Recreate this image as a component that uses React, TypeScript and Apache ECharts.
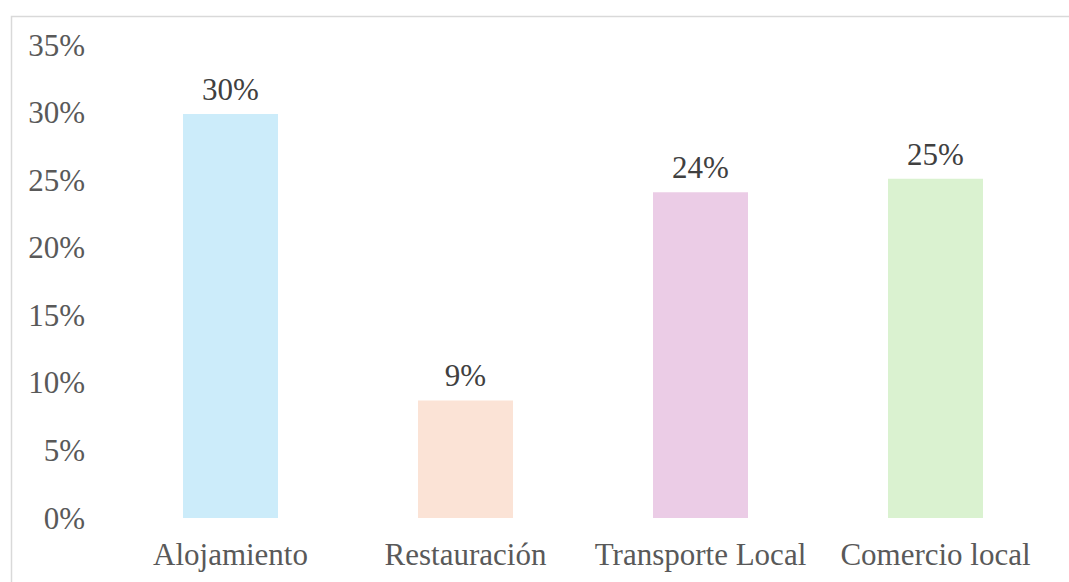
import React, { useEffect, useRef } from "react";
import * as echarts from "echarts";

const categories = ["Alojamiento", "Restauración", "Transporte Local", "Comercio local"];
const values = [29.9, 8.7, 24.1, 25.1];
const labels = ["30%", "9%", "24%", "25%"];
const barColors = ["#CCECFA", "#FBE3D6", "#EBCCE6", "#DAF2D0"];
const yTicks = [0, 5, 10, 15, 20, 25, 30, 35];

const FONT = "Liberation Serif";
const TEXT = "#595959";

export default function App() {
  const ref = useRef<HTMLDivElement>(null);
  useEffect(() => {
    if (!ref.current) return;
    const chart = echarts.init(ref.current, undefined, { renderer: "svg" });
    chart.setOption({
      animation: false,
      backgroundColor: "#ffffff",
      textStyle: { fontFamily: FONT },
      graphic: [
        {
          type: "rect",
          left: 9,
          top: 14,
          shape: { x: 0, y: 0, width: 1100, height: 620 },
          style: { fill: "none", stroke: "#d9d9d9", lineWidth: 1.5 },
          silent: true,
        },
      ],
      grid: { left: 113, right: 16, top: 45, bottom: 64, containLabel: false },
      xAxis: {
        type: "category",
        data: categories,
        axisLine: { show: false },
        axisTick: { show: false },
        axisLabel: { color: TEXT, fontFamily: FONT, fontSize: 31, margin: 21, interval: 0, hideOverlap: false },
      },
      yAxis: {
        type: "value",
        min: yTicks[0],
        max: yTicks[yTicks.length - 1],
        interval: 5,
        splitLine: { show: false },
        axisLine: { show: false },
        axisTick: { show: false },
        axisLabel: {
          color: TEXT,
          fontFamily: FONT,
          fontSize: 31,
          margin: 28,
          formatter: (v: number) => `${v}%`,
        },
      },
      series: [
        {
          type: "bar",
          barWidth: 95,
          data: values.map((v, i) => ({ value: v, itemStyle: { color: barColors[i] } })),
          label: {
            show: true,
            position: "top",
            distance: 9,
            color: "#404040",
            fontFamily: FONT,
            fontSize: 31,
            formatter: (p: any) => labels[p.dataIndex],
          },
        },
      ],
    });
    return () => chart.dispose();
  }, []);
  return (
    <div
      ref={ref}
      style={{ position: "fixed", left: 0, top: 0, width: 1069, height: 582, background: "#fff" }}
    />
  );
}
